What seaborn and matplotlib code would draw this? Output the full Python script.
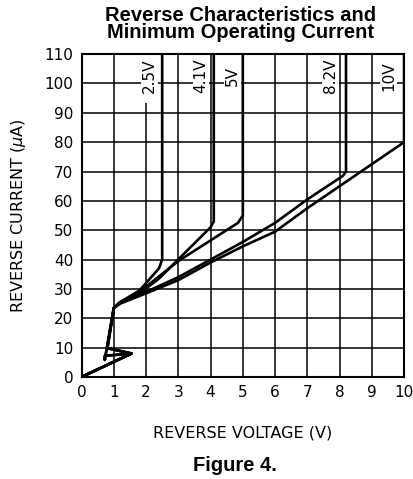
import matplotlib
matplotlib.use("Agg")
import matplotlib.pyplot as plt
from matplotlib.patches import Rectangle
import seaborn as sns
import pandas as pd

# ---- data ----
v_25 = [0, 1.55, 0.80, 1.0, 1.2, 1.8, 2.4, 2.5, 2.5]
i_25 = [0, 8.0, 9.8, 23.5, 25.5, 29.5, 37.0, 40.0, 110]

v_41 = [0, 1.55, 0.80, 1.0, 1.2, 1.8, 2.4, 4.0, 4.1, 4.1]
i_41 = [0, 8.0, 9.8, 23.5, 25.5, 28.5, 33.5, 51.0, 53.0, 110]

v_50 = [0, 1.55, 0.72, 0.72, 1.0, 1.2, 1.8, 3.0, 4.85, 5.0, 5.0]
i_50 = [0, 8.0, 7.2, 5.8, 23.5, 25.5, 29.0, 39.5, 52.5, 55.0, 110]

v_82 = [0, 1.55, 0.72, 0.72, 1.0, 1.2, 2.0, 3.0, 4.0, 5.0, 6.0, 7.0, 8.1, 8.2, 8.2]
i_82 = [0, 8.0, 7.2, 5.8, 23.5, 25.5, 29.0, 34.0, 40.0, 46.0, 52.5, 60.5, 68.5, 70.0, 110]

v_10 = [0, 1.55, 0.80, 1.0, 1.2, 2.0, 3.0, 4.0, 5.0, 6.0, 7.0, 8.0, 9.0, 10.0, 10.0]
i_10 = [0, 8.0, 9.8, 23.5, 25.0, 28.5, 33.0, 39.0, 44.5, 49.5, 57.5, 65.0, 72.5, 80.0, 110]

curve_names = ["2.5V", "4.1V", "5V", "8.2V", "10V"]
label_x = [2.1, 3.7, 4.68, 7.72, 9.52]
label_y = [102.5, 102.5, 102.5, 102.5, 102.5]

x_ticks = list(range(0, 11))
y_ticks = list(range(0, 111, 10))

frames = []
for name, vs, cs in zip(curve_names, [v_25, v_41, v_50, v_82, v_10],
                        [i_25, i_41, i_50, i_82, i_10]):
    frames.append(pd.DataFrame({"curve": name, "V": vs, "I": cs,
                                "order": range(len(vs))}))
df = pd.concat(frames, ignore_index=True)

sns.set_theme(style="white")
plt.rcParams["font.family"] = ["DejaVu Sans"]
plt.rcParams["text.color"] = "black"
plt.rcParams["axes.labelcolor"] = "black"

fig = plt.figure(figsize=(4.14, 4.79), dpi=100)
ax = fig.add_axes([0.197, 0.213, 0.779, 0.674])

for x in x_ticks:
    ax.axvline(x, color="black", lw=1.1, zorder=1)
for y in y_ticks:
    ax.axhline(y, color="black", lw=1.1, zorder=1)

sns.lineplot(data=df, x="V", y="I", units="curve", estimator=None, sort=False,
             color="black", lw=1.9, ax=ax, zorder=3, legend=False)

for name, lx, ly in zip(curve_names, label_x, label_y):
    ax.add_patch(Rectangle((lx - 0.26, 93.5), 0.52, 16.5, facecolor="white",
                           edgecolor="none", zorder=2))
    ax.text(lx, ly, name, rotation=90, ha="center", va="center", fontsize=11,
            zorder=4, color="black")

ax.set_xlim(0, 10)
ax.set_ylim(0, 110)
ax.set_xticks(x_ticks)
ax.set_yticks(y_ticks)
ax.tick_params(axis="both", length=0, labelsize=11, pad=6, colors="black")
for s in ax.spines.values():
    s.set_color("black")
    s.set_linewidth(1.5)
    s.set_zorder(5)
ax.set_xlabel("REVERSE VOLTAGE (V)", fontsize=11.5)
ax.set_ylabel("REVERSE CURRENT ($\\mu$A)", fontsize=11.5)
ax.xaxis.set_label_coords(0.5, -0.173)
ax.yaxis.set_label_coords(-0.197, 0.5)
ax.xaxis.label.set_va("center")
ax.yaxis.label.set_va("center")

fig.text(0.58, 0.988, "Reverse Characteristics and\nMinimum Operating Current",
         ha="center", va="top", fontsize=14.5, fontweight="bold",
         family=["Liberation Sans"], linespacing=0.9, color="black")
fig.text(0.568, 0.029, "Figure 4.", ha="center", va="center", fontsize=14.5,
         fontweight="bold", family=["Liberation Sans"], color="black")

fig.savefig("out.png", dpi=100)
